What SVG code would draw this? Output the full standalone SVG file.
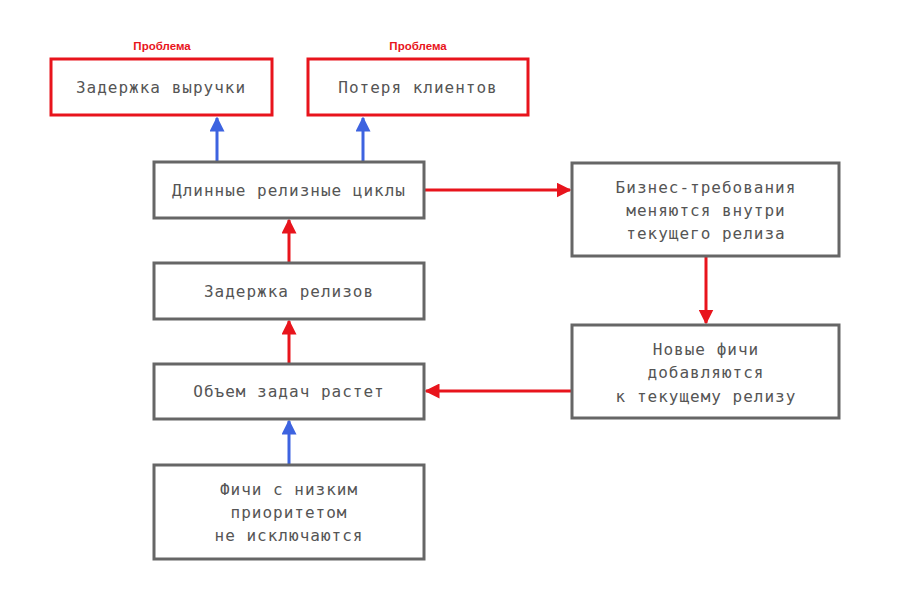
<svg xmlns="http://www.w3.org/2000/svg" width="900" height="600" viewBox="0 0 900 600">
<style>
.bg{fill:#fff}
.box{fill:#fff;stroke:#666;stroke-width:3}
.prob{fill:#fff;stroke:#e8141c;stroke-width:3}
.t{font-family:"DejaVu Sans Mono","Liberation Mono",monospace;font-size:16px;letter-spacing:1px;fill:#555;text-anchor:middle;dominant-baseline:central}
.lbl{font-family:"Liberation Sans","DejaVu Sans",sans-serif;font-size:11.5px;font-weight:bold;fill:#e8141c;text-anchor:middle;dominant-baseline:central}
.red{stroke:#e8141c;stroke-width:3;fill:none;marker-end:url(#ar)}
.blue{stroke:#3d63e0;stroke-width:3;fill:none;marker-end:url(#ab)}
</style>
<defs>
<marker id="ar" viewBox="0 0 10 10" refX="9" refY="5" markerWidth="5" markerHeight="5" orient="auto" markerUnits="strokeWidth"><path d="M0,0 L10,5 L0,10 z" fill="#e8141c"/></marker>
<marker id="ab" viewBox="0 0 10 10" refX="9" refY="5" markerWidth="5" markerHeight="5" orient="auto" markerUnits="strokeWidth"><path d="M0,0 L10,5 L0,10 z" fill="#3d63e0"/></marker>
</defs>
<rect class="bg" width="900" height="600"/>
<g id="connectors">
<line class="blue" x1="217" y1="162" x2="217" y2="118"/>
<line class="blue" x1="363" y1="162" x2="363" y2="118"/>
<line class="red" x1="424" y1="190" x2="570" y2="190"/>
<line class="red" x1="706" y1="256" x2="706" y2="323"/>
<line class="red" x1="572" y1="391" x2="426" y2="391"/>
<line class="red" x1="289" y1="263" x2="289" y2="220"/>
<line class="red" x1="289" y1="364" x2="289" y2="321"/>
<line class="blue" x1="289" y1="465" x2="289" y2="421"/>
</g>
<g id="n-revenue">
<text class="lbl" x="162" y="46">Проблема</text>
<rect class="prob" x="51" y="59" width="221" height="56"/>
<text class="t" x="161" y="87">Задержка выручки</text>
</g>
<g id="n-clients">
<text class="lbl" x="418" y="46">Проблема</text>
<rect class="prob" x="308" y="59" width="220" height="56"/>
<text class="t" x="418" y="87">Потеря клиентов</text>
</g>
<g id="n-cycles">
<rect class="box" x="154" y="162" width="270" height="56"/>
<text class="t" x="289" y="190">Длинные релизные циклы</text>
</g>
<g id="n-delay">
<rect class="box" x="154" y="263" width="270" height="56"/>
<text class="t" x="289" y="291">Задержка релизов</text>
</g>
<g id="n-volume">
<rect class="box" x="154" y="364" width="270" height="55"/>
<text class="t" x="289" y="391">Объем задач растет</text>
</g>
<g id="n-lowprio">
<rect class="box" x="154" y="465" width="270" height="94"/>
<text class="t" x="289" y="489">Фичи с низким</text>
<text class="t" x="289" y="512">приоритетом</text>
<text class="t" x="289" y="535">не исключаются</text>
</g>
<g id="n-business">
<rect class="box" x="572" y="163" width="267" height="93"/>
<text class="t" x="706" y="187">Бизнес-требования</text>
<text class="t" x="706" y="210">меняются внутри</text>
<text class="t" x="706" y="233">текущего релиза</text>
</g>
<g id="n-newfeat">
<rect class="box" x="572" y="325" width="267" height="93"/>
<text class="t" x="706" y="349">Новые фичи</text>
<text class="t" x="706" y="372">добавляются</text>
<text class="t" x="706" y="396">к текущему релизу</text>
</g>
</svg>
